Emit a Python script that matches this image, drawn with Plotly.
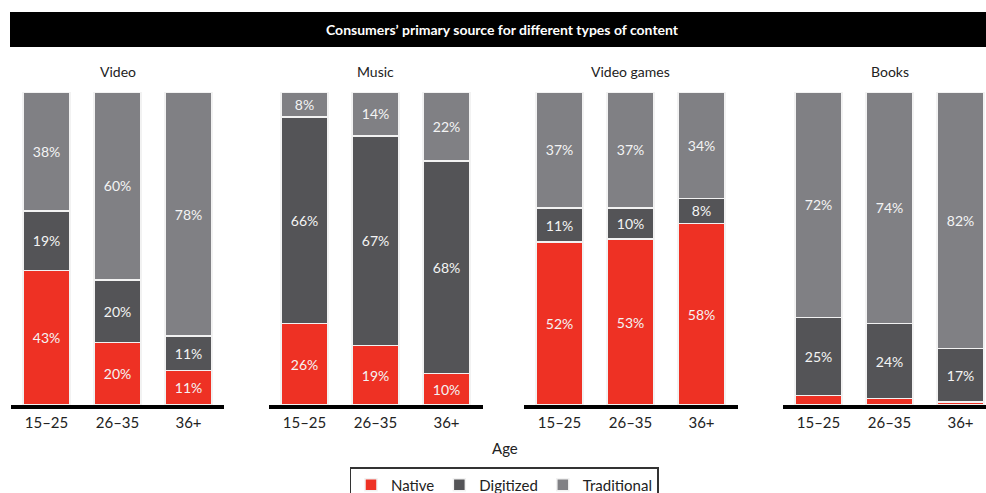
import plotly.graph_objects as go

W, H = 986, 493

panels = ["Video", "Music", "Video games", "Books"]
ages = ["15–25", "26–35", "36+"]

native = {
    "Video": [43, 20, 11],
    "Music": [26, 19, 10],
    "Video games": [52, 53, 58],
    "Books": [3, 2, 1],
}
digitized = {
    "Video": [19, 20, 11],
    "Music": [66, 67, 68],
    "Video games": [11, 10, 8],
    "Books": [25, 24, 17],
}
traditional = {
    "Video": [38, 60, 78],
    "Music": [8, 14, 22],
    "Video games": [37, 37, 34],
    "Books": [72, 74, 82],
}

series = [
    ("Native", native, "#EE3124"),
    ("Digitized", digitized, "#545457"),
    ("Traditional", traditional, "#808084"),
]

# pixel layout of each panel's x axis (left, right)
panel_px = [(11, 224), (269, 483), (524, 738), (783, 986)]
top_px, base_px = 92, 405

FONT = "Lato"

fig = go.Figure()
for i, p in enumerate(panels):
    ax = "" if i == 0 else str(i + 1)
    for name, data, col in series:
        vals = data[p]
        txt = [f"{v}%" if v >= 5 else "" for v in vals]
        fig.add_trace(go.Bar(
            x=ages, y=vals, name=name, legendgroup=name, showlegend=(i == 0),
            marker=dict(color=col, line=dict(color="#f2f2f2", width=1.5)),
            text=txt, textposition="inside", insidetextanchor="middle",
            textfont=dict(color="#f4f4f4", size=14, family=FONT),
            width=0.66, xaxis="x" + ax, yaxis="y" + ax,
            hoverinfo="skip",
        ))

layout = dict(
    width=W, height=H, margin=dict(l=0, r=0, t=0, b=0, autoexpand=False),
    paper_bgcolor="white", plot_bgcolor="white",
    barmode="stack", bargap=0.34,
    font=dict(family=FONT, color="#333333"),
    uniformtext=dict(minsize=14, mode="show"),
    showlegend=True,
    legend=dict(
        orientation="h", x=504 / W, xanchor="center", y=1 - 467 / H, yanchor="top",
        bordercolor="#333333", borderwidth=1.5, font=dict(size=15, family=FONT, color="#222222"),
        traceorder="normal", itemwidth=30,
    ),
)

ydom = [1 - base_px / H, 1 - top_px / H]
annotations = []
for i, p in enumerate(panels):
    ax = "" if i == 0 else str(i + 1)
    l, r = panel_px[i]
    ncat = (r - l) / 71.0
    layout["xaxis" + ax] = dict(
        domain=[l / W, r / W], anchor="y" + ax, type="category",
        categoryarray=ages, range=[-0.5, -0.5 + ncat],
        showline=True, linecolor="black", linewidth=4, ticks="",
        showgrid=False, zeroline=False,
        tickfont=dict(size=15, family=FONT, color="#222222"), ticklabelstandoff=1,
    )
    layout["yaxis" + ax] = dict(
        domain=ydom, anchor="x" + ax, range=[0, 100], visible=False,
        showgrid=False, zeroline=False,
    )
    annotations.append(dict(
        text=p, x=(l + 35.5 + 71) / W, y=1 - 71 / H, xref="paper", yref="paper",
        showarrow=False, font=dict(size=14, family=FONT, color="#222222"),
        xanchor="center", yanchor="middle",
    ))

annotations.append(dict(
    text="Consumers’ primary source for different types of content",
    x=502 / W, y=1 - 29 / H, xref="paper", yref="paper", showarrow=False,
    font=dict(size=14, family=FONT, color="white", weight="bold"),
    xanchor="center", yanchor="middle",
))
annotations.append(dict(
    text="Age", x=505 / W, y=1 - 448 / H, xref="paper", yref="paper", showarrow=False,
    font=dict(size=15, family=FONT, color="#222222"), xanchor="center", yanchor="middle",
))
layout["annotations"] = annotations
layout["shapes"] = [dict(
    type="rect", xref="paper", yref="paper",
    x0=10 / W, x1=1.0, y0=1 - 47 / H, y1=1 - 12 / H,
    fillcolor="black", line=dict(width=0), layer="below",
)]

fig.update_layout(**layout)
fig.write_html("out.html")
